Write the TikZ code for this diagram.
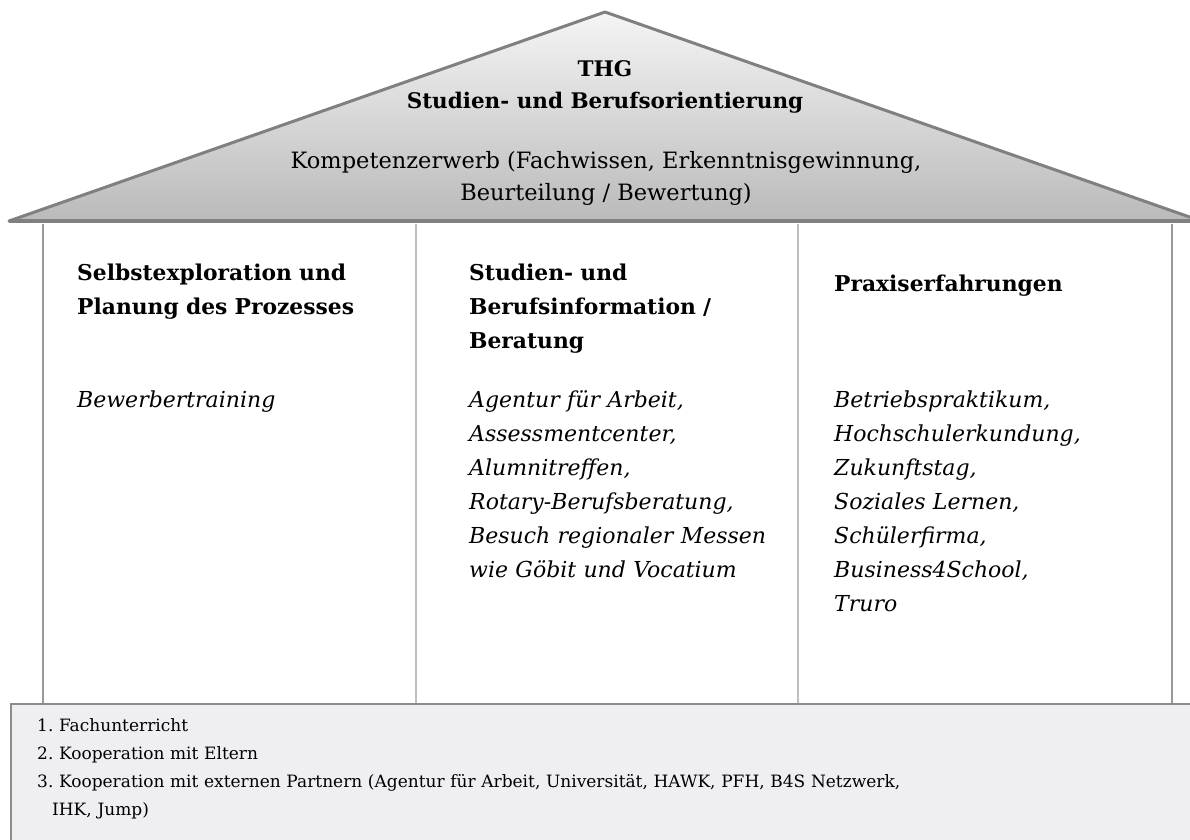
\documentclass[tikz,border=0pt]{standalone}
\usepackage{fontspec}
\setmainfont{DejaVu Serif}
\begin{document}
\begin{tikzpicture}[x=1pt,y=-1pt,
  wallouter/.style={draw=black!40,line width=2pt},
  wallinner/.style={draw=black!25,line width=2pt},
  rooftitle/.style={font=\fontsize{21.5}{32}\selectfont\bfseries,anchor=base,inner sep=0},
  rooftext/.style={font=\fontsize{22.5}{32}\selectfont,anchor=base,inner sep=0},
  colhead/.style={font=\fontsize{21.8}{34}\selectfont\bfseries,anchor=base west,inner sep=0,text width=330pt,align=left},
  colitems/.style={font=\fontsize{22}{34}\selectfont\itshape,anchor=base west,inner sep=0,text width=340pt,align=left},
  footline/.style={font=\fontsize{17}{28}\selectfont,anchor=base west,inner sep=0,text width=1130pt,align=left}]
\useasboundingbox (0,0) rectangle (1190,839);
\begin{scope}
\clip (0,0) rectangle (1190,839);
% walls of the house body
\draw[wallouter] (43,224) -- (43,704);
\draw[wallinner] (416,224) -- (416,704);
\draw[wallinner] (798,224) -- (798,704);
\draw[wallouter] (1172,224) -- (1172,704);
% foundation block
\filldraw[fill={rgb,255:red,239;green,238;blue,241},draw=black!45,line width=2pt]
  (11,704) rectangle (1205,860);
% roof
\draw[top color=black!4,bottom color=black!27,draw=black!50,line width=3pt,line join=round]
  (605,12) -- (1201,221) -- (9,221) -- cycle;
\draw[draw=black!50,line width=4pt] (9,221) -- (1201,221);
\end{scope}
% roof labels
\node[rooftitle] (thg) at (605,76) {THG};
\node[rooftitle] (sbo) at (605,108) {Studien- und Berufsorientierung};
\node[rooftext] (kz1) at (606,168) {Kompetenzerwerb (Fachwissen, Erkenntnisgewinnung,};
\node[rooftext] (kz2) at (606,200) {Beurteilung / Bewertung)};
% column headings
\node[colhead] (h1) at (77,280) {Selbstexploration und\\Planung des Prozesses};
\node[colhead] (h2) at (469,280) {Studien- und\\Berufsinformation /\\Beratung};
\node[colhead] (h3) at (834,291) {Praxiserfahrungen};
% column contents
\node[colitems] (c1) at (77,407) {Bewerbertraining};
\node[colitems] (c2) at (469,407) {Agentur für Arbeit,\\Assessmentcenter,\\Alumnitreffen,\\Rotary-Berufsberatung,\\Besuch regionaler Messen\\wie Göbit und Vocatium};
\node[colitems] (c3) at (834,407) {Betriebspraktikum,\\Hochschulerkundung,\\Zukunftstag,\\Soziales Lernen,\\Schülerfirma,\\Business4School,\\Truro};
% foundation text
\node[footline] (f) at (37,731) {1.\ Fachunterricht\\2.\ Kooperation mit Eltern\\3.\ Kooperation mit externen Partnern (Agentur für Arbeit, Universität, HAWK, PFH, B4S Netzwerk,\\\hspace*{15pt}IHK, Jump)};
\end{tikzpicture}
\end{document}
